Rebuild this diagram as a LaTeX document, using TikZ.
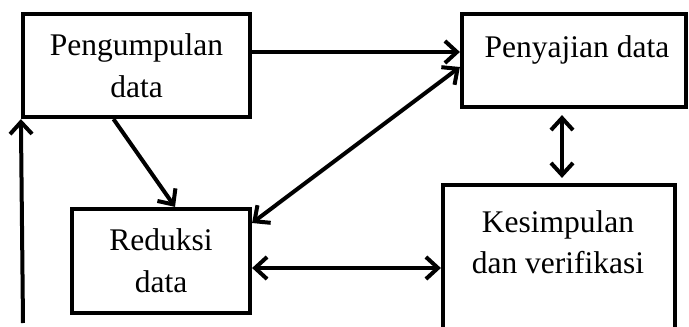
\documentclass[tikz,border=0pt]{standalone}
\usepackage{fontspec}
\setmainfont{Liberation Serif}
\usetikzlibrary{arrows.meta}
\begin{document}
\begin{tikzpicture}[x=1pt,y=-1pt,
  box/.style={draw, line width=4.2pt, rectangle, inner sep=0pt, align=center,
    font=\fontsize{31.5}{42}\selectfont},
  lbl/.style={inner sep=0pt, font=\fontsize{31.5}{42}\selectfont, align=center},
  arr/.style={line width=4pt, -{Straight Barb[length=12pt,width=22pt]}},
  darr/.style={line width=4pt, {Straight Barb[length=12pt,width=22pt]}-{Straight Barb[length=12pt,width=22pt]}}]
\path[use as bounding box, clip] (0,0) rectangle (689,327);
\node[box, minimum width=227pt, minimum height=103pt] (A) at (136.5,65.5) {Pengumpulan\\data};
\node[box, minimum width=178pt, minimum height=104pt] (B) at (161,261) {Reduksi\\data};
\node[box, minimum width=224pt, minimum height=93pt] (C) at (574,60.5) {};
\node[lbl, anchor=base] (Ct) at (577,57) {Penyajian data};
\node[lbl, anchor=base] (Dt1) at (558,232) {Kesimpulan};
\node[box, minimum width=232pt, minimum height=155pt] (D) at (559,262.5) {};
\node[lbl, anchor=base] (Dt2) at (558,273) {dan verifikasi};
% connectors
\coordinate (ac) at ([yshift=13.5pt]A.east);
\draw[arr] (ac) -- (ac -| C.west);
\draw[darr] ([yshift=-6.5pt]C.west) -- ([yshift=38pt]B.east);
\draw[arr] ([xshift=-23pt]A.south) -- ([xshift=14pt]B.north);
\draw[darr] ([xshift=-12pt,yshift=-6pt]C.south) -- ([xshift=3pt,yshift=5pt]D.north);
\coordinate (bd) at ([yshift=-7pt]B.east);
\draw[darr] (bd) -- (bd -| D.west);
\coordinate (lb) at (23,323);
\draw[arr] (lb) -- (A.south west);
\end{tikzpicture}
\end{document}
